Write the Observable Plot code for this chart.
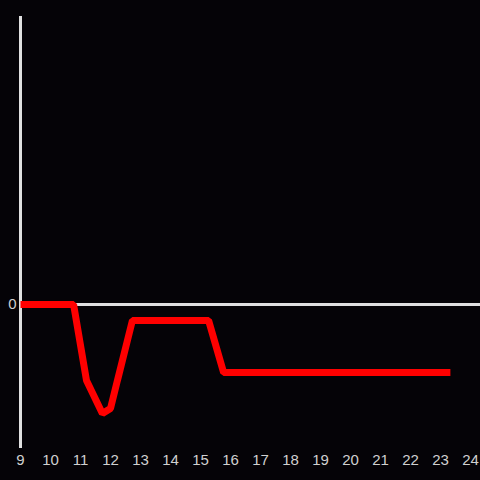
<!DOCTYPE html>
<html>
<head>
<meta charset="utf-8">
<script src="https://cdn.jsdelivr.net/npm/d3@7"></script>
<script src="https://cdn.jsdelivr.net/npm/@observablehq/plot@0.6"></script>
<style>
  html, body { margin: 0; padding: 0; background: #050307; }
  #chart svg { display: block; }
  #chart svg text { font-size: 15px; font-family: 'Liberation Sans', Arial, sans-serif; }
</style>
</head>
<body>
<div id="chart"></div>
<script>
const xs = [9, 10.77, 11.2, 11.73, 12.0, 12.23, 12.73, 15.27, 15.77, 23.33];
const ys = [0, 0, -0.528, -0.757, -0.722, -0.528, -0.111, -0.111, -0.472, -0.472];
const xTicks = [9, 10, 11, 12, 13, 14, 15, 16, 17, 18, 19, 20, 21, 22, 23, 24];
const yTicks = [0];

const data = xs.map((x, i) => ({x, y: ys[i]}));

const chart = Plot.plot({
  width: 480,
  height: 480,
  marginLeft: 20,
  marginRight: 10,
  marginTop: 16,
  marginBottom: 32,
  style: {background: "#050307", color: "#d0d0d0", fontSize: "15px", fontFamily: "'Liberation Sans', Arial, sans-serif"},
  x: {domain: [9, 24]},
  y: {domain: [-1, 2]},
  marks: [
    Plot.ruleY([0], {stroke: "#e0e0e0", strokeWidth: 3, insetRight: -10}),
    Plot.ruleX([9], {stroke: "#e0e0e0", strokeWidth: 3}),
    Plot.line(data, {x: "x", y: "y", stroke: "#ff0000", strokeWidth: 7, strokeLinejoin: "miter", strokeLinecap: "butt"}),
    Plot.axisX({ticks: xTicks, tickFormat: d => String(d), tickSize: 0, tickPadding: 6, fill: "#d0d0d0", fontSize: 15, label: null}),
    Plot.axisY({ticks: yTicks, tickFormat: d => String(d), tickSize: 0, tickPadding: 4, fill: "#d0d0d0", fontSize: 15, label: null})
  ]
});
document.getElementById("chart").appendChild(chart);
</script>
</body>
</html>
